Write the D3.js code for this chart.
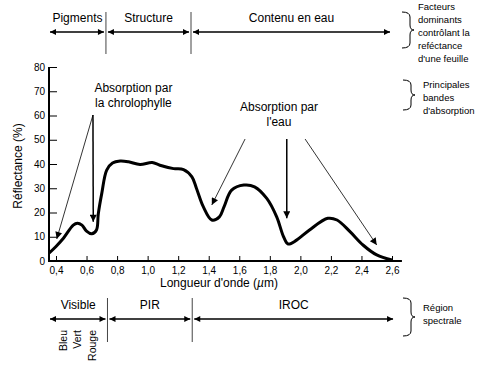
<!DOCTYPE html>
<html>
<head>
<meta charset="utf-8">
<script src="https://cdn.jsdelivr.net/npm/d3@7"></script>
<style>
  body { margin: 0; background: white; }
  text { font-family: "Liberation Sans", Arial, sans-serif; fill: black; }
</style>
</head>
<body>
<script>
// courbe de réflectance d'une feuille verte
const wavelengths = [0.354, 0.40, 0.45, 0.513, 0.54, 0.57, 0.60, 0.634, 0.665, 0.677, 0.70, 0.732, 0.77, 0.82, 0.875, 0.95, 1.03, 1.08, 1.17, 1.235, 1.29, 1.32, 1.365, 1.42, 1.47, 1.50, 1.55, 1.63, 1.70, 1.78, 1.845, 1.89, 1.92, 1.975, 2.06, 2.18, 2.24, 2.325, 2.41, 2.50, 2.60];
const reflectance = [3.2, 6.0, 9.5, 14.8, 15.6, 14.8, 12.3, 11.2, 12.8, 19.5, 28, 37.5, 40.4, 41.2, 40.9, 39.8, 40.6, 39.5, 38.1, 37.7, 34.7, 29.9, 22.3, 16.9, 18.2, 22.3, 29.2, 31.3, 30.6, 25.8, 18.2, 10, 7, 8.6, 12.8, 17.6, 16.9, 12.1, 6.6, 2.5, 0.4];

const xTicks = [0.4, 0.6, 0.8, 1.0, 1.2, 1.4, 1.6, 1.8, 2.0, 2.2, 2.4, 2.6];
const xTickLabels = ["0,4", "0,6", "0,8", "1,0", "1,2", "1,4", "1,6", "1,8", "2,0", "2,2", "2,4", "2,6"];
const yTicks = [0, 10, 20, 30, 40, 50, 60, 70, 80];
const yTickLabels = ["0", "10", "20", "30", "40", "50", "60", "70", "80"];

// bandes en haut et en bas (limites en µm)
const topBandLabels = ["Pigments", "Structure", "Contenu en eau"];
const topBandLimits = [0.354, 0.727, 1.284, 2.6];
const bottomBandLabels = ["Visible", "PIR", "IROC"];
const bottomBandLimits = [0.354, 0.737, 1.292, 2.62];
const colorLabels = ["Bleu", "Vert", "Rouge"];
const colorWavelengths = [0.45, 0.54, 0.64];

// flèches d'absorption : [x départ, y départ, x pointe, y pointe]
const chloroArrows = [[0.642, 60.2, 0.405, 9.1], [0.642, 60.2, 0.644, 16.2]];
const waterArrows = [[1.638, 50.3, 1.42, 23.1], [1.911, 50.3, 1.911, 17.6], [2.031, 50.3, 2.5, 6.6]];

const braceTexts = [
    ["Facteurs", "dominants", "contrôlant la", "reféctance", "d'une feuille"],
    ["Principales", "bandes", "d'absorption"],
    ["Région", "spectrale"]
];

const svg = d3.select("body").append("svg").attr("width", 499).attr("height", 365);

const xScale = d3.scaleLinear().domain([0.4, 2.6]).range([56, 392]);
const yScale = d3.scaleLinear().domain([0, 80]).range([261, 67]);

// marqueurs de flèches
const defs = svg.append("defs");
defs.append("marker").attr("id", "head")
    .attr("viewBox", "0 0 10 10").attr("refX", 10).attr("refY", 5)
    .attr("markerWidth", 9).attr("markerHeight", 7).attr("markerUnits", "userSpaceOnUse")
    .attr("orient", "auto-start-reverse")
    .append("path").attr("d", "M0,0 L10,5 L0,10 z").attr("fill", "black");
defs.append("marker").attr("id", "bandHead")
    .attr("viewBox", "0 0 10 10").attr("refX", 10).attr("refY", 5)
    .attr("markerWidth", 8).attr("markerHeight", 6).attr("markerUnits", "userSpaceOnUse")
    .attr("orient", "auto-start-reverse")
    .append("path").attr("d", "M0,0 L10,5 L0,10 z").attr("fill", "black");

// axes
const xAxis = d3.axisBottom(xScale).tickValues(xTicks).tickFormat((d, i) => xTickLabels[i])
    .tickSizeInner(-5).tickSizeOuter(0).tickPadding(6);
const yAxis = d3.axisLeft(yScale).tickValues(yTicks).tickFormat((d, i) => yTickLabels[i])
    .tickSizeInner(-8).tickSizeOuter(0).tickPadding(4);

const xAxisGroup = svg.append("g").attr("transform", "translate(0, 261)").call(xAxis);
const yAxisGroup = svg.append("g").attr("transform", "translate(49, 0)").call(yAxis);
svg.selectAll(".domain").remove();
svg.selectAll(".tick line").attr("stroke", "black");
svg.selectAll(".tick text").attr("font-size", 10).attr("font-family", "Liberation Sans, Arial, sans-serif");

svg.append("line").attr("x1", 48).attr("x2", xScale(2.665)).attr("y1", 261).attr("y2", 261)
    .attr("stroke", "black").attr("stroke-width", 2);
svg.append("line").attr("x1", 49).attr("x2", 49).attr("y1", yScale(80)).attr("y2", 262)
    .attr("stroke", "black").attr("stroke-width", 2);

const xTitle = svg.append("text").attr("x", 219).attr("y", 287).attr("text-anchor", "middle").attr("font-size", 12);
xTitle.append("tspan").text("Longueur d'onde (");
xTitle.append("tspan").attr("font-style", "italic").text("µ");
xTitle.append("tspan").text("m)");
svg.append("text").attr("transform", "translate(22, 166) rotate(-90)")
    .attr("text-anchor", "middle").attr("font-size", 12).text("Réflectance (%)");

// courbe
const points = wavelengths.map((w, i) => [w, reflectance[i]]);
const line = d3.line().x(d => xScale(d[0])).y(d => yScale(d[1])).curve(d3.curveCatmullRom.alpha(0.5));
svg.append("path").attr("d", line(points)).attr("fill", "none")
    .attr("stroke", "black").attr("stroke-width", 3).attr("stroke-linejoin", "round");

// flèches d'absorption
function drawArrows(list) {
    svg.selectAll(null).data(list).join("line")
        .attr("x1", d => xScale(d[0])).attr("y1", d => yScale(d[1]))
        .attr("x2", d => xScale(d[2])).attr("y2", d => yScale(d[3]))
        .attr("stroke", "black")
        .attr("stroke-width", d => Math.abs(d[0] - d[2]) < 0.01 ? 1.5 : 0.8)
        .attr("marker-end", "url(#head)");
}
drawArrows(chloroArrows);
drawArrows(waterArrows);

const chloroText = svg.append("text").attr("text-anchor", "middle").attr("font-size", 12)
    .attr("x", xScale(0.907)).attr("y", yScale(69.7));
chloroText.append("tspan").attr("x", xScale(0.907)).text("Absorption par");
chloroText.append("tspan").attr("x", xScale(0.907)).attr("dy", 15).text("la chrolophylle");
const waterText = svg.append("text").attr("text-anchor", "middle").attr("font-size", 12)
    .attr("x", xScale(1.86)).attr("y", yScale(61.9));
waterText.append("tspan").attr("x", xScale(1.86)).text("Absorption par");
waterText.append("tspan").attr("x", xScale(1.86)).attr("dy", 15).text("l'eau");

// bandes
function drawBands(labels, limits, labelY, arrowY, sepTop, sepBottom) {
    labels.forEach((lab, i) => {
        const x0 = xScale(limits[i]), x1 = xScale(limits[i + 1]);
        svg.append("text").attr("x", (x0 + x1) / 2).attr("y", labelY)
            .attr("text-anchor", "middle").attr("font-size", 12).text(lab);
        svg.append("line").attr("x1", x0 + (i === 0 ? 1 : 2)).attr("x2", x1 - 2)
            .attr("y1", arrowY).attr("y2", arrowY)
            .attr("stroke", "black").attr("stroke-width", 1.3)
            .attr("marker-start", "url(#bandHead)").attr("marker-end", "url(#bandHead)");
        if (i > 0) {
            svg.append("line").attr("x1", x0).attr("x2", x0).attr("y1", sepTop).attr("y2", sepBottom)
                .attr("stroke", "#444").attr("stroke-width", 1);
        }
    });
}
drawBands(topBandLabels, topBandLimits, 22, 32, 12, 54);
drawBands(bottomBandLabels, bottomBandLimits, 309, 319, 298, 342);

colorLabels.forEach((c, i) => {
    svg.append("text").attr("transform", `translate(${xScale(colorWavelengths[i])}, 330) rotate(-90)`)
        .attr("text-anchor", "end").attr("dy", "0.35em").attr("font-size", 10.5).text(c);
});

// accolades à droite
function brace(x0, yTop, yBottom, yMid) {
    const x1 = x0 + 8, x2 = x0 + 12, r = 5;
    return `M${x0},${yTop} Q${x1},${yTop} ${x1},${yTop + r} L${x1},${yMid - r} Q${x1},${yMid} ${x2},${yMid}` +
        ` Q${x1},${yMid} ${x1},${yMid + r} L${x1},${yBottom - r} Q${x1},${yBottom} ${x0},${yBottom}`;
}
const braceBoxes = [[402, 12, 48, 30, 418, 10], [403, 80, 110, 95, 423, 88], [403, 298, 336, 317, 423, 311]];
braceBoxes.forEach((b, i) => {
    svg.append("path").attr("d", brace(b[0], b[1], b[2], b[3])).attr("fill", "none")
        .attr("stroke", "black").attr("stroke-width", 1);
    const t = svg.append("text").attr("font-size", 9.5);
    braceTexts[i].forEach((s, j) => {
        t.append("tspan").attr("x", b[4]).attr("y", b[5] + j * 13).text(s);
    });
});
</script>
</body>
</html>
